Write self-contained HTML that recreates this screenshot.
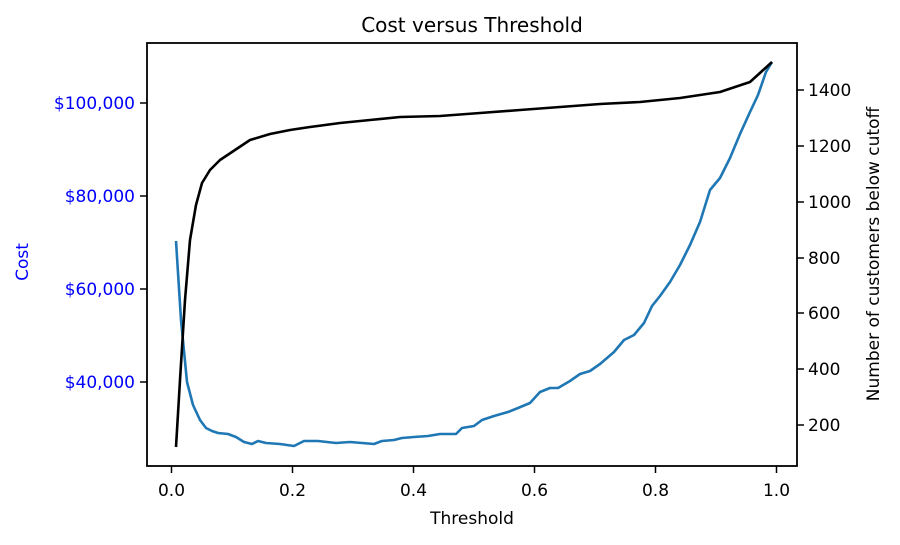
<!DOCTYPE html><html><head><style>body{margin:0;background:#fff}svg{font-family:"DejaVu Sans","Liberation Sans",sans-serif}</style></head><body>
<svg width="900" height="540" viewBox="0 0 900 540">
<rect width="900" height="540" fill="#fff"/>
<text x="472" y="32" font-size="20" text-anchor="middle" fill="#000">Cost versus Threshold</text>
<polyline fill="none" stroke="#1f77b4" stroke-width="2.6" stroke-linejoin="round" points="176,241 181,320 187,382 193,405 200,420 206,428 212,431 218,433 228,434 236,437 244,442 252,444 258,441 266,443 280,444 294,446 304,441 318,441 336,443 350,442 374,444 382,441 394,440 402,438 414,437 428,436 440,434 456,434 462,428 474,426 482,420 494,416 508,412 518,408 530,403 540,392 550,388 558,388 570,381 580,374 590,371 600,364 614,352 624,340 634,335 644,323 652,306 660,296 670,282 680,265 690,245 700,222 710,190 720,178 730,158 740,134 750,112 758,95 766,72 772,62"/>
<polyline fill="none" stroke="#000" stroke-width="2.6" stroke-linejoin="round" points="176,447 180,380 185,300 190,240 196,205 202,183 210,170 220,160 235,150 250,140 270,134 290,130 310,127 340,123 370,120 400,117 440,116 480,113 520,110 560,107 600,104 640,102 680,98 720,92 750,82 772,62"/>
<rect x="147" y="43" width="650" height="423" fill="none" stroke="#000" stroke-width="1.8"/>
<g stroke="#000" stroke-width="1.5">
<line x1="171.5" y1="466" x2="171.5" y2="473"/><line x1="292.5" y1="466" x2="292.5" y2="473"/><line x1="413.5" y1="466" x2="413.5" y2="473"/><line x1="534.5" y1="466" x2="534.5" y2="473"/><line x1="655.5" y1="466" x2="655.5" y2="473"/><line x1="776.5" y1="466" x2="776.5" y2="473"/>
<line x1="140" y1="103" x2="147" y2="103"/><line x1="140" y1="196" x2="147" y2="196"/><line x1="140" y1="289" x2="147" y2="289"/><line x1="140" y1="382" x2="147" y2="382"/>
<line x1="797" y1="90" x2="804" y2="90"/><line x1="797" y1="146" x2="804" y2="146"/><line x1="797" y1="202" x2="804" y2="202"/><line x1="797" y1="258" x2="804" y2="258"/><line x1="797" y1="313" x2="804" y2="313"/><line x1="797" y1="369" x2="804" y2="369"/><line x1="797" y1="425" x2="804" y2="425"/>
</g>
<g font-size="17" text-anchor="middle" fill="#000">
<text x="171.5" y="496">0.0</text><text x="292.5" y="496">0.2</text><text x="413.5" y="496">0.4</text><text x="534.5" y="496">0.6</text><text x="655.5" y="496">0.8</text><text x="776.5" y="496">1.0</text>
<text x="472" y="524">Threshold</text>
</g>
<g font-size="17" text-anchor="end" fill="#0000ff">
<text x="135" y="109">$100,000</text><text x="135" y="202">$80,000</text><text x="135" y="295">$60,000</text><text x="135" y="388">$40,000</text>
</g>
<text transform="translate(28,262) rotate(-90)" font-size="17" text-anchor="middle" fill="#0000ff">Cost</text>
<g font-size="17" fill="#000">
<text x="808" y="96">1400</text><text x="808" y="152">1200</text><text x="808" y="208">1000</text><text x="808" y="264">800</text><text x="808" y="319">600</text><text x="808" y="375">400</text><text x="808" y="431">200</text>
</g>
<text transform="translate(879,254) rotate(-90)" font-size="17" text-anchor="middle" fill="#000">Number of customers below cutoff</text>
</svg></body></html>
